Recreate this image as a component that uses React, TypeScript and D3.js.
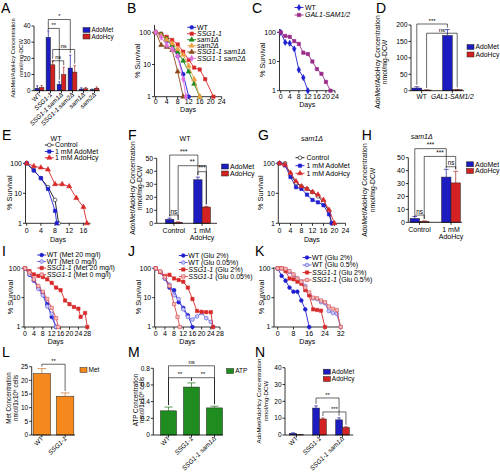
import React from "react";
import * as d3 from "d3";

const FONT = "'Liberation Sans', Arial, Helvetica, sans-serif";
const BLUE = "#1c1cc0";
const RED = "#d42222";
const SBLUE = "#1f1fd0";
const SRED = "#d82828";

// ---------------- Panel A ----------------
const aGroups = ["WT", "SSG1-1", "SSG1-1 sam1Δ", "SSG1-1 sam2Δ", "sam1Δ", "sam2Δ"];
const aAdoMet = [1.5, 33, 4, 14, 1, 0.6];
const aAdoMetErr = [1.5, 4, 1.5, 8, 0.8, 0.4];
const aAdoHcy = [2, 16, 10, 11.5, 1.2, 1.5];
const aAdoHcyErr = [1.2, 2.5, 4.5, 4, 0.8, 0.8];
const aTicks = [0, 10, 20, 30, 40];
const aBrackets = [
  { g1: 1, s1: 0, g2: 3, s2: 0, level: 44, text: "*" },
  { g1: 1, s1: 0, g2: 2, s2: 0, level: 38.5, text: "**" },
  { g1: 1, s1: 1, g2: 3, s2: 1, level: 25.5, text: "ns" },
  { g1: 1, s1: 1, g2: 2, s2: 1, level: 18.5, text: "ns" },
];

// ---------------- Panel B ----------------
const bWT = [[0, 100], [2, 88], [4, 55], [6, 40], [8, 18], [10, 5], [12, 1]];
const bSSG = [[0, 100], [2, 90], [4, 72], [6, 58], [8, 42], [10, 25], [12, 14], [14, 8], [16, 7], [18, 3.5], [21, 1]];
const bSam1 = [[0, 100], [2, 85], [4, 62], [6, 40], [8, 24], [10, 13], [12, 6], [14, 2.5], [16, 1]];
const bSam2 = [[0, 100], [2, 78], [4, 58], [6, 45], [8, 30], [10, 20], [12, 9], [14, 3.5], [16, 1]];
const bSSGsam1 = [[0, 100], [2, 40], [4, 35], [6, 28], [8, 6], [10, 1]];
const bSSGsam2 = [[0, 100], [2, 70], [4, 40], [6, 30], [8, 18], [10, 3.5], [11, 1]];
const survTicks24 = [0, 4, 8, 12, 16, 20, 24];

// ---------------- Panel C ----------------
const cWT = [[0, 100], [2, 45], [4, 42], [6, 27], [8, 5.2], [10, 2.8], [12, 1]];
const cGAL = [[0, 100], [2, 75], [4, 70], [6, 50], [8, 40], [10, 20], [12, 18], [14, 10], [16, 5.5], [18, 3.8], [20, 2], [22, 1]];

// ---------------- Panel D ----------------
const dGroups = ["WT", "GAL1-SAM1/2"];
const dAdoMet = [8, 168];
const dAdoMetErr = [4, 18];
const dAdoHcy = [2, 3];
const dAdoHcyErr = [0.5, 0.8];
const dTicks = [0, 50, 100, 150, 200];
const dBrackets = [
  { g1: 0, s1: 0, g2: 1, s2: 0, level: 203, text: "***" },
  { g1: 0, s1: 1, g2: 1, s2: 1, level: 175, text: "ns" },
];

// ---------------- Panel E ----------------
const eControl = [[0, 100], [2, 58], [4, 32], [6, 16], [8, 6], [9, 1]];
const eAdoMet = [[0, 100], [2, 58], [4, 32], [6, 14], [8, 2.6], [8.5, 1]];
const eAdoHcy = [[0, 100], [2, 80], [4, 72], [6, 62], [8, 20], [10, 20], [12, 17], [14, 7], [16, 3.5], [17, 1]];
const survTicks16 = [0, 4, 8, 12, 16];

// ---------------- Panel F ----------------
const fGroups = ["Control", "1 mM\nAdoHcy"];
const fAdoMet = [3, 33.5];
const fAdoMetErr = [1, 2];
const fAdoHcy = [0.8, 12.5];
const fAdoHcyErr = [0.3, 0.5];
const fTicks = [0, 10, 20, 30, 40, 50];
const fBrackets = [
  { g1: 0, s1: 0, g2: 1, s2: 0, level: 52.5, text: "***" },
  { g1: 0, s1: 1, g2: 1, s2: 1, level: 44.3, text: "**" },
  { g1: 1, s1: 0, g2: 1, s2: 1, level: 39.7, text: "***" },
  { g1: 0, s1: 0, g2: 0, s2: 1, level: 6.4, text: "ns" },
];

// ---------------- Panel G ----------------
const gControl = [[0, 100], [2, 100], [4, 42], [6, 22], [8, 17], [10, 14], [12, 11], [14, 8], [16, 5], [18, 2.5], [19, 1]];
const gAdoMet = [[0, 100], [2, 85], [4, 35], [6, 16], [8, 14], [10, 9], [12, 6], [14, 5], [16, 4], [18, 2], [19, 1]];
const gAdoHcy = [[0, 100], [2, 90], [4, 48], [6, 25], [8, 17], [10, 14], [12, 11], [14, 9], [16, 6], [18, 2.8], [20, 1]];

// ---------------- Panel H ----------------
const hGroups = ["Control", "1 mM\nAdoHcy"];
const hAdoMet = [3, 35];
const hAdoMetErr = [1.5, 6];
const hAdoHcy = [0.8, 30.5];
const hAdoHcyErr = [0.3, 9];
const hBrackets = [
  { g1: 0, s1: 0, g2: 1, s2: 0, level: 57, text: "***" },
  { g1: 0, s1: 1, g2: 1, s2: 1, level: 51, text: "***" },
  { g1: 1, s1: 0, g2: 1, s2: 1, level: 43, text: "ns" },
  { g1: 0, s1: 0, g2: 0, s2: 1, level: 5.6, text: "ns" },
];

// ---------------- Panel I ----------------
const iWT20 = [[0, 100], [2, 60], [4, 38], [6, 22], [8, 14], [10, 6], [12, 2.2], [14, 1]];
const iWT0 = [[0, 100], [2, 62], [4, 40], [6, 20], [8, 12], [10, 5], [12, 2.8], [14, 1]];
const iSSG20 = [[0, 100], [2, 80], [4, 62], [6, 55], [8, 50], [10, 42], [12, 32], [14, 22], [16, 18], [18, 8], [20, 6], [22, 4.8], [24, 4.2], [25, 2.2], [27, 3], [28, 1]];
const iSSG0 = [[0, 100], [2, 72], [4, 42], [6, 25], [8, 16], [10, 9], [12, 4.5], [14, 2], [15, 1]];
const survTicks28 = [0, 4, 8, 12, 16, 20, 24, 28];

// ---------------- Panel J ----------------
const jWT2 = [[0, 100], [2, 75], [4, 45], [6, 22], [8, 18], [10, 7], [12, 4.5], [14, 2.5], [16, 1]];
const jWT005 = [[0, 100], [2, 75], [4, 45], [6, 28], [8, 12], [10, 9], [12, 4], [14, 2.2], [16, 1.8], [18, 2.3], [20, 3], [22, 2], [24, 1.5], [25, 1]];
const jSSG2 = [[0, 100], [2, 75], [4, 55], [6, 60], [8, 45], [10, 40], [12, 35], [14, 22], [16, 9], [18, 3.5], [20, 3.3], [22, 3.2], [24, 3.2], [25, 1]];
const jSSG005 = [[0, 100], [2, 78], [4, 50], [6, 25], [8, 6], [9.5, 2.2], [10.5, 1]];

// ---------------- Panel K ----------------
const kWT2 = [[0, 100], [2, 55], [4, 38], [6, 22], [8, 16], [10, 16], [12, 8], [14, 4], [16, 1]];
const kWT05 = [[0, 100], [2, 100], [4, 90], [6, 75], [8, 60], [10, 45], [12, 35], [14, 25], [16, 13], [18, 9.5], [20, 9], [22, 7], [24, 6.5], [26, 3.5], [28, 3], [30, 2.8], [32, 1]];
const kSSG2 = [[0, 100], [2, 100], [4, 80], [6, 45], [8, 42], [10, 35], [12, 30], [14, 18], [16, 12], [18, 4], [20, 3.8], [22, 3.6], [24, 1]];
const kSSG05 = [[0, 100], [2, 100], [4, 95], [6, 80], [8, 62], [10, 45], [12, 35], [14, 22], [16, 15], [18, 10], [20, 9.5], [22, 8], [24, 7], [26, 5], [28, 4.2], [30, 3.8], [32, 1]];
const survTicks32 = [0, 8, 16, 24, 32];

// ---------------- Panel L ----------------
const lGroups = ["WT", "SSG1-1"];
const lMet = [22.5, 14.2];
const lMetErr = [1.8, 1.2];
const lTicks = [0, 5, 10, 15, 20, 25];
const lBrackets = [{ g1: 0, s1: 0, g2: 1, s2: 0, level: 25.9, text: "**" }];

// ---------------- Panel M ----------------
const mGroups = ["WT", "SSG1-1", "SSG1-1 sam1Δ"];
const mATP = [0.29, 0.575, 0.325];
const mATPErr = [0.045, 0.05, 0.02];
const mTicks = [0, 0.2, 0.4, 0.6, 0.8];
const mBrackets = [
  { g1: 0, s1: 0, g2: 2, s2: 0, level: 0.83, text: "ns" },
  { g1: 0, s1: 0, g2: 1, s2: 0, level: 0.687, text: "**" },
  { g1: 1, s1: 0, g2: 2, s2: 0, level: 0.687, text: "**" },
];

// ---------------- Panel N ----------------
const nGroups = ["WT", "SSG1-1", "SSG1-1 sam1Δ"];
const nAdoMet = [1, 16, 9];
const nAdoMetErr = [0.3, 1.3, 1.2];
const nAdoHcy = [0.15, 9.5, 4.5];
const nAdoHcyErr = [0.05, 0.6, 0.4];
const nTicks = [0, 10, 20, 30, 40];
const nBrackets = [
  { g1: 1, s1: 0, g2: 2, s2: 0, level: 22, text: "**" },
  { g1: 1, s1: 1, g2: 2, s2: 1, level: 13.7, text: "***" },
];

const CONC_TITLE = ["AdoMet/AdoHcy Concentration", "nmol/mg-DCW"];

// ---------------------------------------------------------
const ITAL = /^(SSG1-1|sam\dΔ|GAL1-SAM1\/2)$/;
function Rich({ text }: { text: string }) {
  const toks = text.split(" ");
  return (
    <>
      {toks.map((t, i) => (
        <tspan key={i} fontStyle={ITAL.test(t) ? "italic" : "normal"}>
          {(i ? " " : "") + t}
        </tspan>
      ))}
    </>
  );
}

const symPath = (t: any, size = 11) => d3.symbol().type(t).size(size)() as string;

interface Ser {
  name: string;
  pts: number[][];
  color: string;
  fill: string;
  sym: any;
}

function Survival(p: {
  xr: [number, number];
  xMax: number;
  xTicks: number[];
  yr: [number, number];
  yTop: number;
  axisX: number;
  series: Ser[];
  legX: number;
  legTextX: number;
  legYs: number[];
  yTitleX: number;
  tickY: number;
  daysY: number;
  fs?: number;
  lfs?: number;
}) {
  const fs = p.fs ?? 7;
  const lfs = p.lfs ?? 7;
  const x = d3.scaleLinear().domain([0, p.xMax]).range(p.xr);
  const y = d3.scaleLog().domain([1, 100]).range(p.yr);
  const line = d3
    .line<number[]>()
    .x((d) => x(d[0]))
    .y((d) => y(d[1]));
  const yBot = y(1);
  const yTopPx = y(p.yTop);
  const xEnd = x(p.xMax);
  return (
    <g>
      <line x1={p.axisX} x2={p.axisX} y1={yBot} y2={yTopPx} stroke="#000" strokeWidth={0.8} />
      <line x1={p.axisX} x2={xEnd} y1={yBot} y2={yBot} stroke="#000" strokeWidth={0.8} />
      {[1, 10, 100].map((t) => (
        <g key={t}>
          <line x1={p.axisX - 2.5} x2={p.axisX} y1={y(t)} y2={y(t)} stroke="#000" strokeWidth={0.8} />
          <text x={p.axisX - 3.5} y={y(t) + fs * 0.35} fontSize={fs} textAnchor="end">
            {t}
          </text>
        </g>
      ))}
      {p.xTicks.map((t) => (
        <g key={t}>
          <line x1={x(t)} x2={x(t)} y1={yBot} y2={yBot + 2.5} stroke="#000" strokeWidth={0.8} />
          <text x={x(t)} y={p.tickY} fontSize={fs} textAnchor="middle">
            {t}
          </text>
        </g>
      ))}
      <text x={(p.axisX + xEnd) / 2} y={p.daysY} fontSize={fs} textAnchor="middle">
        Days
      </text>
      <text
        transform={`translate(${p.yTitleX},${(yBot + yTopPx) / 2}) rotate(-90)`}
        fontSize={7.3}
        textAnchor="middle"
        dy="0.35em"
      >
        % Survival
      </text>
      {p.series.map((s, i) => (
        <g key={i}>
          <path d={line(s.pts) as string} fill="none" stroke={s.color} strokeWidth={0.9} />
          {s.pts.map((pt, j) => (
            <path
              key={j}
              d={symPath(s.sym)}
              transform={`translate(${x(pt[0])},${y(pt[1])})`}
              fill={s.fill}
              stroke={s.color}
              strokeWidth={0.6}
            />
          ))}
        </g>
      ))}
      {p.series.map((s, i) => (
        <g key={"l" + i}>
          <line x1={p.legX - 4.5} x2={p.legX + 4.5} y1={p.legYs[i]} y2={p.legYs[i]} stroke={s.color} strokeWidth={0.9} />
          <path d={symPath(s.sym)} transform={`translate(${p.legX},${p.legYs[i]})`} fill={s.fill} stroke={s.color} strokeWidth={0.6} />
          <text x={p.legTextX} y={p.legYs[i] + lfs * 0.35} fontSize={lfs}>
            <Rich text={s.name} />
          </text>
        </g>
      ))}
    </g>
  );
}

interface BarSer {
  name: string;
  values: number[];
  errs: number[];
  color: string;
}
interface Br {
  g1: number;
  s1: number;
  g2: number;
  s2: number;
  level: number;
  text: string;
}

function Bars(p: {
  groups: string[];
  series: BarSer[];
  brackets: Br[];
  axisX: number;
  xEnd: number;
  bandRange: [number, number];
  padIn: number;
  padOut: number;
  y0: number;
  yMaxPx: number;
  yMax: number;
  yTicks: number[];
  tickFmt?: (v: number) => string;
  rotate: boolean;
  labelY: number;
  leg: { x: number; ys: number[] };
  yTitle: string[];
  yTitleXs: number[];
  yTitleCY: number;
  titleFs: number;
  fs: number;
  labelFs?: number;
}) {
  const fs = p.fs;
  const labelFs = p.labelFs ?? fs;
  const y = d3.scaleLinear().domain([0, p.yMax]).range([p.y0, p.yMaxPx]);
  const xg = d3.scaleBand<string>().domain(p.groups).range(p.bandRange).paddingInner(p.padIn).paddingOuter(p.padOut);
  const xs = d3
    .scaleBand<number>()
    .domain(p.series.map((_, i) => i))
    .range([0, xg.bandwidth()]);
  const bw = xs.bandwidth();
  const cx = (g: number, s: number) => (xg(p.groups[g]) as number) + (xs(s) as number) + bw / 2;
  const top = (g: number, s: number) => p.series[s].values[g] + p.series[s].errs[g];
  const fmt = p.tickFmt ?? ((v: number) => String(v));
  return (
    <g>
      {p.series.map((s, si) =>
        p.groups.map((g, gi) => {
          const x0 = (xg(g) as number) + (xs(si) as number);
          const v = s.values[gi];
          const e = s.errs[gi];
          const ec = d3.color(s.color)!.darker(0.6).toString();
          return (
            <g key={si + "-" + gi}>
              <line x1={x0 + bw / 2} x2={x0 + bw / 2} y1={y(v)} y2={y(v + e)} stroke={ec} strokeWidth={0.7} />
              <line x1={x0 + bw * 0.25} x2={x0 + bw * 0.75} y1={y(v + e)} y2={y(v + e)} stroke={ec} strokeWidth={0.7} />
              <rect x={x0} y={y(v)} width={bw} height={p.y0 - y(v)} fill={s.color} stroke="#222" strokeWidth={0.5} />
            </g>
          );
        })
      )}
      <line x1={p.axisX} x2={p.axisX} y1={p.y0} y2={p.yMaxPx} stroke="#000" strokeWidth={0.8} />
      <line x1={p.axisX} x2={p.xEnd} y1={p.y0} y2={p.y0} stroke="#000" strokeWidth={0.8} />
      {p.yTicks.map((t) => (
        <g key={t}>
          <line x1={p.axisX - 2.5} x2={p.axisX} y1={y(t)} y2={y(t)} stroke="#000" strokeWidth={0.8} />
          <text x={p.axisX - 3.5} y={y(t) + fs * 0.35} fontSize={fs} textAnchor="end">
            {fmt(t)}
          </text>
        </g>
      ))}
      {p.groups.map((g) => {
        const c = (xg(g) as number) + xg.bandwidth() / 2;
        const lines = g.split("\n");
        return (
          <g key={g}>
            <line x1={c} x2={c} y1={p.y0} y2={p.y0 + 2.5} stroke="#000" strokeWidth={0.8} />
            {p.rotate ? (
              <text transform={`translate(${c + 2},${p.labelY}) rotate(-45)`} fontSize={labelFs} textAnchor="end">
                <Rich text={g} />
              </text>
            ) : (
              lines.map((ln, k) => (
                <text key={k} x={c} y={p.labelY + k * labelFs * 1.1} fontSize={labelFs} textAnchor="middle">
                  <Rich text={ln} />
                </text>
              ))
            )}
          </g>
        );
      })}
      {p.yTitle.map((t, k) => (
        <text
          key={k}
          transform={`translate(${p.yTitleXs[k]},${p.yTitleCY}) rotate(-90)`}
          fontSize={p.titleFs}
          textAnchor="middle"
          dy="0.35em"
        >
          {t}
        </text>
      ))}
      {p.brackets.map((b, k) => {
        const xa = cx(b.g1, b.s1);
        const xb = cx(b.g2, b.s2);
        const yl = y(b.level);
        const ya = Math.max(yl + 1.5, y(top(b.g1, b.s1)) - 2);
        const yb = Math.max(yl + 1.5, y(top(b.g2, b.s2)) - 2);
        return (
          <g key={"b" + k}>
            <path d={`M${xa},${ya}V${yl}H${xb}V${yb}`} fill="none" stroke="#000" strokeWidth={0.6} />
            <text x={(xa + xb) / 2} y={yl - 1.3} fontSize={fs * 0.9} textAnchor="middle">
              {b.text}
            </text>
          </g>
        );
      })}
      {p.series.map((s, i) => (
        <g key={"lg" + i}>
          <rect x={p.leg.x} y={p.leg.ys[i] - 2.5} width={7} height={5} fill={s.color} stroke="#222" strokeWidth={0.5} />
          <text x={p.leg.x + 8.5} y={p.leg.ys[i] + fs * 0.35} fontSize={fs}>
            {s.name}
          </text>
        </g>
      ))}
    </g>
  );
}

const Letter = ({ x, y, t }: { x: number; y: number; t: string }) => (
  <text x={x} y={y} fontSize={14}>
    {t}
  </text>
);

export default function App() {
  const C = d3.symbolCircle;
  const S = d3.symbolSquare;
  const T = d3.symbolTriangle;
  const D = d3.symbolDiamond;
  return (
    <svg
      width={500}
      height={475}
      style={{ position: "absolute", left: 0, top: 0, background: "#fff" }}
      fontFamily={FONT}
    >
      <rect width={500} height={475} fill="#fff" />
      {/* A */}
      <Letter x={1} y={12.5} t="A" />
      <Bars
        groups={aGroups}
        series={[
          { name: "AdoMet", values: aAdoMet, errs: aAdoMetErr, color: BLUE },
          { name: "AdoHcy", values: aAdoHcy, errs: aAdoHcyErr, color: RED },
        ]}
        brackets={aBrackets}
        axisX={34}
        xEnd={100}
        bandRange={[34, 100]}
        padIn={0.2}
        padOut={0.1}
        y0={90.7}
        yMaxPx={26}
        yMax={40}
        yTicks={aTicks}
        rotate={true}
        labelY={95}
        leg={{ x: 83, ys: [30, 36.5] }}
        yTitle={CONC_TITLE}
        yTitleXs={[13, 20.5]}
        yTitleCY={58}
        titleFs={5.8}
        fs={6.3}
      />
      {/* B */}
      <Letter x={127} y={12.5} t="B" />
      <Survival
        xr={[155.7, 221.7]}
        xMax={24}
        xTicks={survTicks24}
        yr={[96.7, 32.3]}
        yTop={170}
        axisX={154.5}
        series={[
          { name: "WT", pts: bWT, color: SBLUE, fill: SBLUE, sym: C },
          { name: "SSG1-1", pts: bSSG, color: SRED, fill: SRED, sym: S },
          { name: "sam1Δ", pts: bSam1, color: "#1e8a1e", fill: "#1e8a1e", sym: T },
          { name: "sam2Δ", pts: bSam2, color: "#f0a040", fill: "#f0a040", sym: T },
          { name: "SSG1-1 sam1Δ", pts: bSSGsam1, color: "#8c4a1c", fill: "#8c4a1c", sym: T },
          { name: "SSG1-1 sam2Δ", pts: bSSGsam2, color: "#e070e0", fill: "#e070e0", sym: D },
        ]}
        legX={191.7}
        legTextX={197}
        legYs={[27.3, 33.7, 39.7, 45.7, 52, 58.3]}
        yTitleX={137}
        tickY={103.5}
        daysY={111.5}
      />
      {/* C */}
      <Letter x={252} y={12.5} t="C" />
      <Survival
        xr={[280.7, 335]}
        xMax={24}
        xTicks={survTicks24}
        yr={[90.7, 32.3]}
        yTop={130}
        axisX={279.5}
        series={[
          { name: "WT", pts: cWT, color: SBLUE, fill: SBLUE, sym: D },
          { name: "GAL1-SAM1/2", pts: cGAL, color: "#9a2a8a", fill: "#9a2a8a", sym: S },
        ]}
        legX={299}
        legTextX={305}
        legYs={[7.5, 15]}
        yTitleX={262}
        tickY={99}
        daysY={107}
      />
      {/* D */}
      <Letter x={376} y={12.5} t="D" />
      <Bars
        groups={dGroups}
        series={[
          { name: "AdoMet", values: dAdoMet, errs: dAdoMetErr, color: BLUE },
          { name: "AdoHcy", values: dAdoHcy, errs: dAdoHcyErr, color: RED },
        ]}
        brackets={dBrackets}
        axisX={411}
        xEnd={464}
        bandRange={[411, 463]}
        padIn={0.36}
        padOut={0.03}
        y0={90.7}
        yMaxPx={25}
        yMax={200}
        yTicks={dTicks}
        rotate={false}
        labelY={99}
        leg={{ x: 467, ys: [47, 54.5] }}
        yTitle={CONC_TITLE}
        yTitleXs={[377.5, 384.5]}
        yTitleCY={62}
        titleFs={6.8}
        fs={6.8}
        labelFs={6.6}
      />
      {/* E */}
      <Letter x={2} y={140} t="E" />
      <text x={56} y={141} fontSize={7} textAnchor="middle">WT</text>
      <Survival
        xr={[26.7, 90.5]}
        xMax={18}
        xTicks={survTicks16}
        yr={[223.3, 163.3]}
        yTop={110}
        axisX={25.5}
        series={[
          { name: "Control", pts: eControl, color: "#111", fill: "#fff", sym: C },
          { name: "1 mM AdoMet", pts: eAdoMet, color: SBLUE, fill: SBLUE, sym: S },
          { name: "1 mM AdoHcy", pts: eAdoHcy, color: SRED, fill: SRED, sym: T },
        ]}
        legX={49.3}
        legTextX={55}
        legYs={[145, 151.5, 157.7]}
        yTitleX={9}
        tickY={233}
        daysY={241.5}
      />
      {/* F */}
      <Letter x={128} y={140} t="F" />
      <text x={185} y={141} fontSize={7} textAnchor="middle">WT</text>
      <Bars
        groups={fGroups}
        series={[
          { name: "AdoMet", values: fAdoMet, errs: fAdoMetErr, color: BLUE },
          { name: "AdoHcy", values: fAdoHcy, errs: fAdoHcyErr, color: RED },
        ]}
        brackets={fBrackets}
        axisX={156.7}
        xEnd={217}
        bandRange={[157, 219]}
        padIn={0.4}
        padOut={0.3}
        y0={223.3}
        yMaxPx={158.3}
        yMax={50}
        yTicks={fTicks}
        rotate={false}
        labelY={232.5}
        leg={{ x: 221.5, ys: [166.5, 173.5] }}
        yTitle={CONC_TITLE}
        yTitleXs={[132.7, 140]}
        yTitleCY={188}
        titleFs={6.8}
        fs={7}
      />
      {/* G */}
      <Letter x={258} y={140} t="G" />
      <text x={312} y={140.5} fontSize={7} textAnchor="middle">
        <Rich text="sam1Δ" />
      </text>
      <Survival
        xr={[279.5, 345.5]}
        xMax={24}
        xTicks={survTicks24}
        yr={[223.3, 163.3]}
        yTop={110}
        axisX={278.3}
        series={[
          { name: "Control", pts: gControl, color: "#111", fill: "#fff", sym: C },
          { name: "1 mM AdoMet", pts: gAdoMet, color: SBLUE, fill: SBLUE, sym: S },
          { name: "1 mM AdoHcy", pts: gAdoHcy, color: SRED, fill: SRED, sym: T },
        ]}
        legX={300}
        legTextX={306.5}
        legYs={[157.7, 165.7, 173.3]}
        yTitleX={260.5}
        tickY={233}
        daysY={241.5}
      />
      {/* H */}
      <Letter x={361.7} y={140} t="H" />
      <text x={421.7} y={138.5} fontSize={7} textAnchor="middle">
        <Rich text="sam1Δ" />
      </text>
      <Bars
        groups={hGroups}
        series={[
          { name: "AdoMet", values: hAdoMet, errs: hAdoMetErr, color: BLUE },
          { name: "AdoHcy", values: hAdoHcy, errs: hAdoHcyErr, color: RED },
        ]}
        brackets={hBrackets}
        axisX={408.3}
        xEnd={462}
        bandRange={[408.5, 462]}
        padIn={0.4}
        padOut={0.05}
        y0={222.3}
        yMaxPx={157.7}
        yMax={50}
        yTicks={fTicks}
        rotate={false}
        labelY={231.5}
        leg={{ x: 466.5, ys: [164.3, 171] }}
        yTitle={CONC_TITLE}
        yTitleXs={[365, 373]}
        yTitleCY={190}
        titleFs={6.8}
        fs={7}
      />
      {/* I */}
      <Letter x={2} y={255.5} t="I" />
      <Survival
        xr={[25, 87.3]}
        xMax={28}
        xTicks={survTicks28}
        yr={[327, 268.3]}
        yTop={110}
        axisX={24}
        series={[
          { name: "WT (Met 20 mg/l)", pts: iWT20, color: SBLUE, fill: SBLUE, sym: C },
          { name: "WT (Met 0 mg/l)", pts: iWT0, color: "#5a5ae0", fill: "#c8c8f4", sym: C },
          { name: "SSG1-1 (Met 20 mg/l)", pts: iSSG20, color: SRED, fill: SRED, sym: S },
          { name: "SSG1-1 (Met 0 mg/l)", pts: iSSG0, color: "#d84848", fill: "#f4c0c0", sym: S },
        ]}
        legX={41.7}
        legTextX={46.7}
        legYs={[255, 261.5, 268, 274.5]}
        yTitleX={10}
        tickY={335.5}
        daysY={344}
      />
      {/* J */}
      <Letter x={128} y={255.5} t="J" />
      <Survival
        xr={[155.7, 220]}
        xMax={28}
        xTicks={survTicks28}
        yr={[327, 268.3]}
        yTop={110}
        axisX={154.7}
        series={[
          { name: "WT (Glu 2%)", pts: jWT2, color: SBLUE, fill: SBLUE, sym: C },
          { name: "WT (Glu 0.05%)", pts: jWT005, color: "#5a5ae0", fill: "#c8c8f4", sym: C },
          { name: "SSG1-1 (Glu 2%)", pts: jSSG2, color: SRED, fill: SRED, sym: S },
          { name: "SSG1-1 (Glu 0.05%)", pts: jSSG005, color: "#d84848", fill: "#f4c0c0", sym: S },
        ]}
        legX={183.3}
        legTextX={188.3}
        legYs={[255.5, 262.5, 269.5, 276.5]}
        yTitleX={138.5}
        tickY={335.5}
        daysY={344}
      />
      {/* K */}
      <Letter x={255} y={255.5} t="K" />
      <Survival
        xr={[277.7, 340.7]}
        xMax={32}
        xTicks={survTicks32}
        yr={[327, 268.3]}
        yTop={110}
        axisX={274}
        series={[
          { name: "WT (Glu 2%)", pts: kWT2, color: SBLUE, fill: SBLUE, sym: C },
          { name: "WT (Glu 0.5%)", pts: kWT05, color: "#5a5ae0", fill: "#c8c8f4", sym: C },
          { name: "SSG1-1 (Glu 2%)", pts: kSSG2, color: SRED, fill: SRED, sym: S },
          { name: "SSG1-1 (Glu 0.5%)", pts: kSSG05, color: "#d84848", fill: "#f4c0c0", sym: S },
        ]}
        legX={307}
        legTextX={312}
        legYs={[257.5, 265, 272.5, 280]}
        yTitleX={261}
        tickY={335.5}
        daysY={344}
      />
      {/* L */}
      <Letter x={2} y={357} t="L" />
      <Bars
        groups={lGroups}
        series={[{ name: "Met", values: lMet, errs: lMetErr, color: "#f5891e" }]}
        brackets={lBrackets}
        axisX={31.7}
        xEnd={75}
        bandRange={[32, 75]}
        padIn={0.25}
        padOut={0.05}
        y0={435}
        yMaxPx={366.7}
        yMax={25}
        yTicks={lTicks}
        rotate={true}
        labelY={439}
        leg={{ x: 80, ys: [370] }}
        yTitle={["Met Concentration", "nmol/1x10⁸ cells"]}
        yTitleXs={[8.5, 15.5]}
        yTitleCY={398}
        titleFs={6.3}
        fs={6.5}
      />
      {/* M */}
      <Letter x={128} y={357} t="M" />
      <Bars
        groups={mGroups}
        series={[{ name: "ATP", values: mATP, errs: mATPErr, color: "#1e8c1e" }]}
        brackets={mBrackets}
        axisX={153.3}
        xEnd={223}
        bandRange={[157, 226]}
        padIn={0.3}
        padOut={0.15}
        y0={435}
        yMaxPx={368.3}
        yMax={0.8}
        yTicks={mTicks}
        tickFmt={(v) => (v === 0 ? "0" : v.toFixed(1))}
        rotate={true}
        labelY={439}
        leg={{ x: 226.7, ys: [371] }}
        yTitle={["ATP Concentration", "nmol/1x10⁸ cells"]}
        yTitleXs={[135.5, 142]}
        yTitleCY={400}
        titleFs={6.3}
        fs={6.5}
      />
      {/* N */}
      <Letter x={255} y={357} t="N" />
      <Bars
        groups={nGroups}
        series={[
          { name: "AdoMet", values: nAdoMet, errs: nAdoMetErr, color: BLUE },
          { name: "AdoHcy", values: nAdoHcy, errs: nAdoHcyErr, color: RED },
        ]}
        brackets={nBrackets}
        axisX={285}
        xEnd={353.3}
        bandRange={[285, 354]}
        padIn={0.4}
        padOut={0.2}
        y0={435}
        yMaxPx={367.7}
        yMax={40}
        yTicks={nTicks}
        rotate={true}
        labelY={439}
        leg={{ x: 323.3, ys: [371.7, 379] }}
        yTitle={CONC_TITLE}
        yTitleXs={[258.5, 265.5]}
        yTitleCY={401}
        titleFs={6.2}
        fs={6.5}
      />
    </svg>
  );
}
